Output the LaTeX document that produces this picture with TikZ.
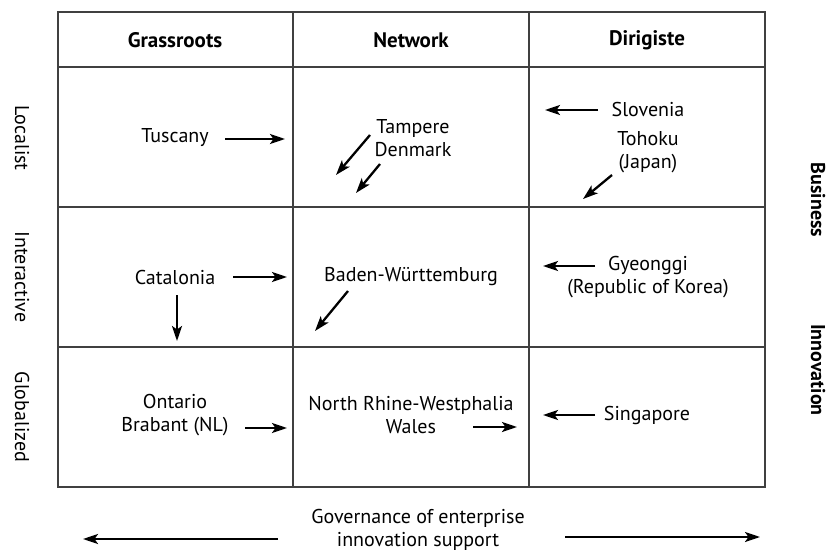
\documentclass[tikz,border=0pt]{standalone}
\usepackage{fontspec}
\setmainfont{PT Sans}
\usetikzlibrary{arrows.meta}

\tikzset{
  arr/.style={-{Stealth[length=15pt,width=10pt,inset=3.5pt]}, line width=2.3pt, draw=black},
}

\begin{document}
\begin{tikzpicture}[x=1pt, y=-1pt,
  every node/.style={font=\fontsize{20}{23}\selectfont, text=black}]
\tikzstyle{grid}=[draw=black!75, line width=1.3pt]
\tikzstyle{head}=[font=\fontsize{21}{24}\selectfont\bfseries]
\tikzstyle{side}=[rotate=-90, font=\fontsize{20}{24}\selectfont]
\tikzstyle{cell}=[align=center, inner sep=1pt]
\useasboundingbox (0,0) rectangle (826,553);

% table
\draw[grid] (58,12) rectangle (765,487);
\draw[grid] (58,67) -- (765,67);
\draw[grid] (58,207) -- (765,207);
\draw[grid] (58,347) -- (765,347);
\draw[grid] (293,12) -- (293,487);
\draw[grid] (529,12) -- (529,487);

% headers
\node[head] (grass) at (175,40) {Grassroots};
\node[head] (netw) at (411,40) {Network};
\node[head] (dirig) at (647,40) {Dirigiste};

% row labels
\node[side] (local) at (22,138) {Localist};
\node[side] (inter) at (22,277) {Interactive};
\node[side] (glob) at (22,417) {Globalized};
\node[side, font=\fontsize{20}{24}\selectfont\bfseries] (busi) at (818,200) {Business};
\node[side, font=\fontsize{20}{24}\selectfont\bfseries] (innov) at (818,370) {Innovation};

% cells
\node[cell] (tusc) at (175,138) {Tuscany};
\node[cell] (tamp) at (413,138) {Tampere\\Denmark};
\node[cell] (slov) at (648,110) {Slovenia};
\node[cell] (toho) at (648,152) {Tohoku\\(Japan)};
\node[cell] (cata) at (175,277) {Catalonia};
\node[cell] (bade) at (411,277) {Baden-Württemburg};
\node[cell] (gyeo) at (648,277) {Gyeonggi\\(Republic of Korea)};
\node[cell] (onta) at (175,415) {Ontario\\Brabant (NL)};
\node[cell] (nrw) at (411,415) {North Rhine-Westphalia\\Wales};
\node[cell] (sing) at (647,415) {Singapore};
\node[cell] (gov) at (418,530) {Governance of enterprise\\innovation support};

% arrow starts and ends
\coordinate (s1) at (225,139);   \coordinate (e1) at (285,139);
\coordinate (s2) at (370,135);   \coordinate (e2) at (336,175);
\coordinate (s3) at (380,164);   \coordinate (e3) at (356,193);
\coordinate (s4) at (598,110);   \coordinate (e4) at (545,110);
\coordinate (s5) at (612,175);   \coordinate (e5) at (583,199);
\coordinate (s6) at (233,277);   \coordinate (e6) at (287,277);
\coordinate (s7) at (177,295);   \coordinate (e7) at (177,341);
\coordinate (s8) at (348,291);   \coordinate (e8) at (315,331);
\coordinate (s9) at (595,266);   \coordinate (e9) at (543,266);
\coordinate (s10) at (245,428);  \coordinate (e10) at (287,428);
\coordinate (s11) at (473,427);  \coordinate (e11) at (517,427);
\coordinate (s12) at (595,415);  \coordinate (e12) at (543,415);
\coordinate (s13) at (278,539);  \coordinate (e13) at (83,539);
\coordinate (s14) at (565,537);  \coordinate (e14) at (760,537);

\foreach \i in {1,...,14}
  \draw[arr] (s\i) -- (e\i);
\end{tikzpicture}
\end{document}
